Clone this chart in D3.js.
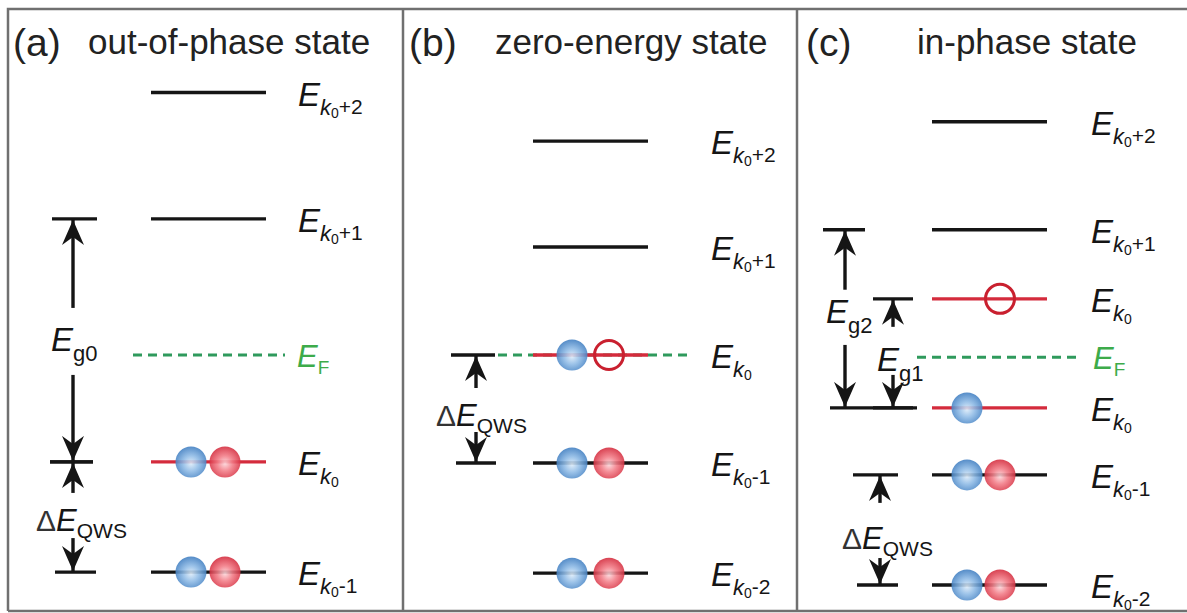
<!DOCTYPE html>
<html>
<head>
<meta charset="utf-8">
<script src="https://cdn.jsdelivr.net/npm/d3@7/dist/d3.min.js"></script>
<style>
  body { margin: 0; background: #fff; }
  svg text { font-family: Arial, "Liberation Sans", sans-serif; }
</style>
</head>
<body>
<svg id="fig" width="1187" height="613"></svg>
<script>
// energies are in units of dE_QWS, Fermi level at 0
var tags = ["(a)", "(b)", "(c)"];
var titles = ["out-of-phase state", "zero-energy state", "in-phase state"];

var levelsA = [2.43, 1.26, -0.99, -2.01];
var subsA   = ["+2", "+1", "", "-1"];
var redA    = [false, false, true, false];
var dotsA   = [["", ""], ["", ""], ["b", "r"], ["b", "r"]];

var levelsB = [1.98, 1.0, 0, -1.0, -2.02];
var subsB   = ["+2", "+1", "", "-1", "-2"];
var redB    = [false, false, true, false, false];
var dotsB   = [["", ""], ["", ""], ["b", "o"], ["b", "r"], ["b", "r"]];

var levelsC = [2.16, 1.16, 0.52, -0.49, -1.11, -2.13];
var subsC   = ["+2", "+1", "", "", "-1", "-2"];
var redC    = [false, false, true, true, false, false];
var dotsC   = [["", ""], ["", ""], ["", "o"], ["b", ""], ["b", "r"], ["b", "r"]];

var fermi = [0, 0, -0.02];

// gaps: [top energy, bottom energy, label]
var gapsA = [[1.26, -0.99, "g0"], [-0.99, -2.01, "QWS"]];
var gapsB = [[0, -1.0, "QWS"]];
var gapsC = [[1.16, -0.49, "g2"], [0.52, -0.49, "g1"], [-1.11, -2.13, "QWS"]];

var y = d3.scaleLinear().domain([0, 1]).range([355, 247]);

var svg = d3.select("#fig");
var defs = svg.append("defs");

defs.append("marker").attr("id", "head")
    .attr("viewBox", "0 -11 25 22").attr("refX", 25).attr("refY", 0)
    .attr("markerUnits", "userSpaceOnUse").attr("markerWidth", 25).attr("markerHeight", 22)
    .attr("orient", "auto")
  .append("path").attr("d", "M0,-11L25,0L0,11L8,0Z").attr("fill", "#151515");

function grad(id, stops) {
  var g = defs.append("radialGradient").attr("id", id)
      .attr("cx", "50%").attr("cy", "55%").attr("r", "55%");
  stops.forEach(function(s) {
    g.append("stop").attr("offset", s[0]).attr("stop-color", s[1]);
  });
}
grad("blueDot", [["0%", "#dcebf9"], ["45%", "#8fbbe6"], ["100%", "#3d7cc0"]]);
grad("redDot", [["0%", "#fcd6da"], ["45%", "#f27b86"], ["100%", "#d3283a"]]);

// frame
var frame = svg.append("g").attr("stroke", "#707070").attr("stroke-width", 2.5).attr("fill", "none");
frame.append("path").attr("d", "M8,611V9H1187");
frame.append("path").attr("d", "M8,611H1187");
[403, 797].forEach(function(x) {
  frame.append("line").attr("x1", x).attr("x2", x).attr("y1", 9).attr("y2", 611);
});

// panel layout
var panels = [
  { levels: levelsA, subs: subsA, red: redA, dots: dotsA, gaps: gapsA,
    tagX: 13, titleX: 88, lx: 151, dotDx: [40, 74], labX: 298, ef: [133, 285], efLab: 297,
    gapL: [
      { x: 73, up: 89, down: 87, bt: [-21, 24], bb: [-23, 20], tx: 51, ty: 351 },
      { x: 73, up: 31, down: 34, bt: [-23, 20], bb: [-18, 23], tx: 36, ty: 531 }
    ] },
  { levels: levelsB, subs: subsB, red: redB, dots: dotsB, gaps: gapsB,
    tagX: 409, titleX: 495, lx: 533, dotDx: [39, 76], labX: 711, ef: [498, 690], efLab: null,
    gapL: [
      { x: 476, up: 33, down: 31, bt: [-25, 19], bb: [-20, 20], tx: 436, ty: 426 }
    ] },
  { levels: levelsC, subs: subsC, red: redC, dots: dotsC, gaps: gapsC,
    tagX: 806, titleX: 917, lx: 932, dotDx: [35, 68], labX: 1091, ef: [917, 1080], efLab: 1093,
    gapL: [
      { x: 845, up: 60, down: 63, bt: [-22, 20], bb: [-15, 72], tx: 826, ty: 323 },
      { x: 893, up: 28, down: 33, bt: [-20, 20], bb: [-20, 20], tx: 877, ty: 371 },
      { x: 880, up: 28, down: 27, bt: [-27, 18], bb: [-23, 18], tx: 842, ty: 549 }
    ] }
];

var lineLen = 115;
var ink = "#151515";

panels.forEach(function(p, i) {
  var g = svg.append("g");

  g.append("text").attr("x", p.tagX).attr("y", 56).attr("font-size", 39).attr("fill", "#222").text(tags[i]);
  g.append("text").attr("x", p.titleX).attr("y", 54).attr("font-size", 35).attr("fill", "#222").text(titles[i]);

  // Fermi level
  var yF = y(fermi[i]);
  g.append("line").attr("x1", p.ef[0]).attr("x2", p.ef[1]).attr("y1", yF).attr("y2", yF)
    .attr("stroke", "#2f9a5c").attr("stroke-width", 3).attr("stroke-dasharray", "9,6");
  if (p.efLab) {
    var tf = g.append("text").attr("x", p.efLab).attr("y", yF + 12).attr("fill", "#3dab4a");
    tf.append("tspan").attr("font-size", 31).attr("font-style", "italic").text("E");
    tf.append("tspan").attr("font-size", 19).attr("dy", 7).text("F");
  }

  // levels
  p.levels.forEach(function(e, j) {
    var yy = y(e);
    g.append("line").attr("x1", p.lx).attr("x2", p.lx + lineLen).attr("y1", yy).attr("y2", yy)
      .attr("stroke", p.red[j] ? "#d42b3c" : ink).attr("stroke-width", 3.4);

    p.dots[j].forEach(function(d, k) {
      if (!d) return;
      var cx = p.lx + p.dotDx[k];
      if (d === "o") {
        g.append("circle").attr("cx", cx).attr("cy", yy).attr("r", 14.5)
          .attr("fill", "none").attr("stroke", "#c9202f").attr("stroke-width", 3);
      } else {
        g.append("circle").attr("cx", cx).attr("cy", yy).attr("r", 15.5)
          .attr("fill", d === "b" ? "url(#blueDot)" : "url(#redDot)").attr("fill-opacity", 0.88);
      }
    });

    var t = g.append("text").attr("x", p.labX).attr("y", yy + 13).attr("fill", ink);
    t.append("tspan").attr("font-size", 33).attr("font-style", "italic").text("E");
    t.append("tspan").attr("font-size", 22).attr("font-style", "italic").attr("dy", 9).text("k");
    t.append("tspan").attr("font-size", 14).attr("dy", 3).text("0");
    if (p.subs[j]) t.append("tspan").attr("font-size", 21).attr("dy", -4).text(p.subs[j]);
  });

  // gap brackets
  p.gaps.forEach(function(gp, j) {
    var L = p.gapL[j];
    var yt = y(gp[0]), yb = y(gp[1]);
    g.append("line").attr("x1", L.x + L.bt[0]).attr("x2", L.x + L.bt[1]).attr("y1", yt).attr("y2", yt)
      .attr("stroke", ink).attr("stroke-width", 3.4);
    g.append("line").attr("x1", L.x + L.bb[0]).attr("x2", L.x + L.bb[1]).attr("y1", yb).attr("y2", yb)
      .attr("stroke", ink).attr("stroke-width", 3.4);
    g.append("line").attr("x1", L.x).attr("x2", L.x).attr("y1", yt + L.up).attr("y2", yt + 1)
      .attr("stroke", ink).attr("stroke-width", 3.4).attr("marker-end", "url(#head)");
    g.append("line").attr("x1", L.x).attr("x2", L.x).attr("y1", yb - L.down).attr("y2", yb - 1)
      .attr("stroke", ink).attr("stroke-width", 3.4).attr("marker-end", "url(#head)");

    var t = g.append("text").attr("x", L.tx).attr("y", L.ty).attr("fill", ink);
    if (gp[2] === "QWS") {
      t.append("tspan").attr("font-size", 30).attr("fill", "#333").text("\u0394");
      t.append("tspan").attr("font-size", 31).attr("font-style", "italic").text("E");
      t.append("tspan").attr("font-size", 21).attr("dy", 7).text("QWS");
    } else {
      t.append("tspan").attr("font-size", 33).attr("font-style", "italic").text("E");
      t.append("tspan").attr("font-size", 22).attr("dy", 10).text(gp[2]);
    }
  });
});
</script>
</body>
</html>
